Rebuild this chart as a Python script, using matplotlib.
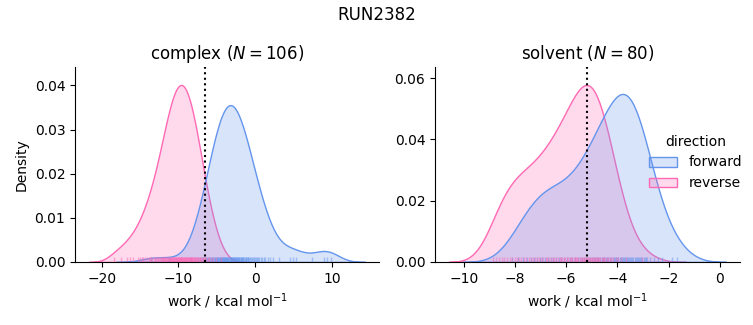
import numpy as np
import pandas as pd
import matplotlib
matplotlib.use("Agg")
import matplotlib.pyplot as plt
import seaborn as sns
from matplotlib.colors import to_rgba
from matplotlib.patches import Patch

run_name = "RUN2382"
phases = ["complex", "solvent"]
directions = ["forward", "reverse"]
colors = {"forward": "cornflowerblue", "reverse": "hotpink"}

complex_forward = [
    -13.60, -11.20, -8.30, -7.88, -7.47, -7.20, -6.97, -6.76, -6.58, -6.44,
    -6.29, -6.14, -6.00, -5.88, -5.78, -5.67, -5.58, -5.48, -5.37, -5.27,
    -5.18, -5.10, -5.03, -4.94, -4.88, -4.79, -4.72, -4.64, -4.57, -4.49,
    -4.42, -4.36, -4.28, -4.22, -4.14, -4.09, -4.01, -3.95, -3.88, -3.81,
    -3.75, -3.67, -3.62, -3.54, -3.48, -3.40, -3.34, -3.27, -3.20, -3.14,
    -3.07, -3.00, -2.94, -2.86, -2.81, -2.74, -2.67, -2.60, -2.54, -2.47,
    -2.40, -2.34, -2.25, -2.18, -2.11, -2.04, -1.96, -1.89, -1.81, -1.75,
    -1.66, -1.59, -1.52, -1.43, -1.33, -1.24, -1.15, -1.06, -0.97, -0.87,
    -0.79, -0.68, -0.58, -0.44, -0.31, -0.19, -0.04, 0.08, 0.22, 0.34,
    0.53, 0.74, 0.94, 1.14, 1.35, 1.65, 1.99, 2.31, 3.10, 4.50,
    4.90, 5.30, 7.40, 9.00, 9.40, 9.90,
]
complex_reverse = [
    -18.40, -17.50, -16.70, -16.30, -15.90, -15.31, -15.06, -14.81, -14.56, -14.30,
    -14.05, -13.86, -13.70, -13.53, -13.39, -13.23, -13.07, -12.92, -12.76, -12.65,
    -12.54, -12.43, -12.32, -12.20, -12.10, -11.99, -11.91, -11.82, -11.75, -11.65,
    -11.57, -11.49, -11.40, -11.32, -11.23, -11.16, -11.09, -11.02, -10.95, -10.88,
    -10.82, -10.75, -10.67, -10.61, -10.53, -10.47, -10.41, -10.35, -10.28, -10.23,
    -10.16, -10.10, -10.04, -9.98, -9.91, -9.86, -9.79, -9.73, -9.67, -9.61,
    -9.54, -9.48, -9.42, -9.35, -9.30, -9.23, -9.17, -9.11, -9.04, -8.97,
    -8.92, -8.85, -8.79, -8.73, -8.66, -8.60, -8.53, -8.46, -8.38, -8.32,
    -8.24, -8.19, -8.11, -8.04, -7.97, -7.89, -7.80, -7.71, -7.62, -7.52,
    -7.43, -7.33, -7.25, -7.16, -7.06, -6.97, -6.83, -6.67, -6.52, -6.36,
    -6.21, -6.07, -5.81, -5.48, -5.15, -4.50,
]
solvent_forward = [
    -8.12, -7.87, -7.68, -7.52, -7.38, -7.26, -7.15, -7.04, -6.93, -6.83,
    -6.72, -6.61, -6.51, -6.40, -6.29, -6.19, -6.08, -5.97, -5.87, -5.76,
    -5.65, -5.55, -5.46, -5.38, -5.29, -5.21, -5.14, -5.07, -5.00, -4.93,
    -4.86, -4.80, -4.74, -4.68, -4.62, -4.56, -4.51, -4.45, -4.40, -4.35,
    -4.29, -4.24, -4.19, -4.14, -4.10, -4.05, -4.00, -3.96, -3.91, -3.87,
    -3.82, -3.78, -3.74, -3.70, -3.66, -3.62, -3.58, -3.54, -3.50, -3.46,
    -3.42, -3.38, -3.33, -3.29, -3.25, -3.20, -3.16, -3.11, -3.07, -3.02,
    -2.97, -2.92, -2.87, -2.83, -2.72, -2.56, -2.40, -2.25, -1.88, -1.68,
]
solvent_reverse = [
    -8.85, -8.74, -8.63, -8.52, -8.42, -8.31, -8.20, -8.11, -8.02, -7.93,
    -7.84, -7.75, -7.65, -7.56, -7.47, -7.38, -7.29, -7.21, -7.13, -7.05,
    -6.97, -6.89, -6.81, -6.74, -6.67, -6.60, -6.53, -6.47, -6.40, -6.33,
    -6.26, -6.21, -6.15, -6.09, -6.04, -5.98, -5.93, -5.87, -5.81, -5.76,
    -5.71, -5.66, -5.62, -5.57, -5.53, -5.48, -5.44, -5.39, -5.35, -5.30,
    -5.26, -5.22, -5.17, -5.13, -5.10, -5.06, -5.02, -4.99, -4.95, -4.91,
    -4.87, -4.83, -4.79, -4.75, -4.71, -4.67, -4.62, -4.58, -4.53, -4.48,
    -4.42, -4.37, -4.30, -4.24, -4.16, -4.07, -3.97, -3.84, -3.66, -3.05,
]

# free energy estimate per phase (dotted line)
complex_dg = -6.5
solvent_dg = -5.2

complex_xticks = [-20, -10, 0, 10]
solvent_xticks = [-10, -8, -6, -4, -2, 0]
solvent_yticks = [0.00, 0.02, 0.04, 0.06]

works = {
    "complex": {"forward": complex_forward, "reverse": complex_reverse},
    "solvent": {"forward": solvent_forward, "reverse": solvent_reverse},
}
dg = {"complex": complex_dg, "solvent": solvent_dg}
xticks = {"complex": complex_xticks, "solvent": solvent_xticks}

# densities normalised over every group in the figure, like displot does
n_total = sum(len(works[p][d]) for p in phases for d in directions)


def kde(values, cut=3, gridsize=200):
    x = np.asarray(values, dtype=float)
    bw = x.std(ddof=1) * len(x) ** (-1 / 5)
    grid = np.linspace(x.min() - cut * bw, x.max() + cut * bw, gridsize)
    z = (grid[:, None] - x[None, :]) / bw
    dens = np.exp(-0.5 * z ** 2).sum(axis=1) / (len(x) * bw * np.sqrt(2 * np.pi))
    return grid, dens * len(x) / n_total


fig = plt.figure(figsize=(7.53, 3.25), dpi=100)
ax_left = fig.add_axes([0.0996, 0.194, 0.4037, 0.599])
ax_right = fig.add_axes([0.5777, 0.194, 0.405, 0.599])

for ax, phase in zip([ax_left, ax_right], phases):
    # reverse first so forward sits on top, as seaborn layers them
    for direction in directions[::-1]:
        grid, dens = kde(works[phase][direction])
        c = colors[direction]
        poly = ax.fill_between(grid, 0, dens, facecolor=to_rgba(c, 0.25),
                               edgecolor=to_rgba(c, 1), linewidth=1)
        poly.sticky_edges.y[:] = [0, np.inf]

    df = pd.DataFrame({
        "work": works[phase]["forward"] + works[phase]["reverse"],
        "direction": ["forward"] * len(works[phase]["forward"])
        + ["reverse"] * len(works[phase]["reverse"]),
    })
    sns.rugplot(data=df, x="work", hue="direction", palette=colors, ax=ax,
                height=0.025, alpha=0.5, linewidth=1, legend=False)

    ax.axvline(dg[phase], color="black", linestyle=":", linewidth=1.5)
    ax.set_xticks(xticks[phase])
    n = len(works[phase]["forward"])
    ax.set_title(f"{phase} ($N = {n}$)", fontsize=12)
    ax.set_xlabel("work / kcal mol$^{-1}$")
    ax.set_ylabel("")
    ax.spines["top"].set_visible(False)
    ax.spines["right"].set_visible(False)

ax_left.set_ylabel("Density")
ax_right.set_yticks(solvent_yticks)

handles = [Patch(facecolor=to_rgba(colors[d], 0.25), edgecolor=colors[d], linewidth=1)
           for d in directions]
fig.legend(handles, directions, title="direction", frameon=False,
           loc="center right", bbox_to_anchor=(1.002, 0.5), fontsize=10,
           title_fontsize=10)

fig.suptitle(run_name, fontsize=12)
fig.savefig("out.png", dpi=100)
